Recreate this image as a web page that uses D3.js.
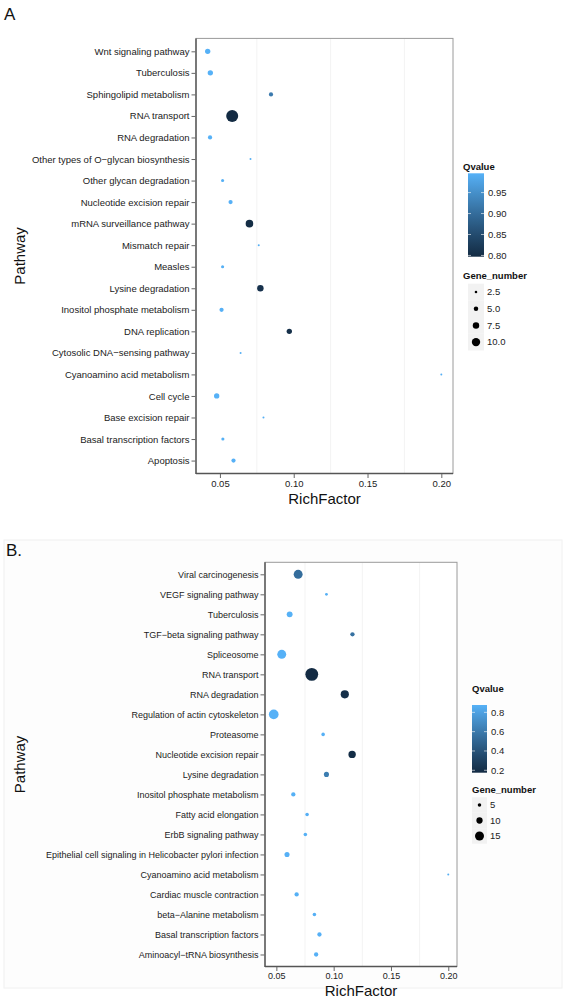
<!DOCTYPE html>
<html>
<head>
<meta charset="utf-8">
<script src="https://cdn.jsdelivr.net/npm/d3@7"></script>
<style>
  html, body { margin: 0; padding: 0; background: #ffffff; }
  svg { display: block; font-family: "Liberation Sans", Arial, Helvetica, sans-serif; }
</style>
</head>
<body>
<svg id="chart" width="566" height="1004"></svg>
<script>
// ---------- Panel A data ----------
const pathwaysA = ["Wnt signaling pathway","Tuberculosis","Sphingolipid metabolism","RNA transport","RNA degradation",
  "Other types of O\u2212glycan biosynthesis","Other glycan degradation","Nucleotide excision repair","mRNA surveillance pathway",
  "Mismatch repair","Measles","Lysine degradation","Inositol phosphate metabolism","DNA replication",
  "Cytosolic DNA\u2212sensing pathway","Cyanoamino acid metabolism","Cell cycle","Base excision repair",
  "Basal transcription factors","Apoptosis"];
const richA  = [0.0417,0.0435,0.0846,0.0583,0.0433,0.0707,0.0518,0.0572,0.0700,0.0763,0.0518,0.0774,0.0511,0.0970,0.0640,0.2000,0.0478,0.0795,0.0520,0.0592];
const qA     = [0.996,0.996,0.920,0.797,0.996,0.993,0.994,0.995,0.800,0.993,0.994,0.808,0.995,0.806,0.993,0.993,0.996,0.993,0.994,0.995];
const genesA = [4,4,3,10,3,1,2,3,6,1,2,5,3,4,1,1,4,1,2,3];
const qTicksA = [0.80,0.85,0.90,0.95];
const sizeBreaksA = [2.5,5.0,7.5,10.0];
const sizeLabelsA = ["2.5","5.0","7.5","10.0"];

// ---------- Panel B data ----------
const pathwaysB = ["Viral carcinogenesis","VEGF signaling pathway","Tuberculosis","TGF\u2212beta signaling pathway","Spliceosome",
  "RNA transport","RNA degradation","Regulation of actin cytoskeleton","Proteasome","Nucleotide excision repair",
  "Lysine degradation","Inositol phosphate metabolism","Fatty acid elongation","ErbB signaling pathway",
  "Epithelial cell signaling in Helicobacter pylori infection","Cyanoamino acid metabolism","Cardiac muscle contraction",
  "beta\u2212Alanine metabolism","Basal transcription factors","Aminoacyl\u2212tRNA biosynthesis"];
const richB  = [0.0690,0.0937,0.0616,0.1164,0.0547,0.0809,0.1097,0.0477,0.0908,0.1161,0.0937,0.0648,0.0768,0.0753,0.0593,0.2000,0.0677,0.0832,0.0876,0.0847];
const qB     = [0.540,0.870,0.874,0.560,0.876,0.175,0.200,0.876,0.872,0.190,0.620,0.870,0.868,0.870,0.872,0.866,0.870,0.868,0.872,0.872];
const genesB = [10,2,6,4,10,15,9,11,3,8,5,4,3,3,5,1,4,3,4,4];
const qTicksB = [0.2,0.4,0.6,0.8];
const sizeBreaksB = [5,10,15];
const sizeLabelsB = ["5","10","15"];

const xTicks = [0.05,0.10,0.15,0.20];
const xMinor = [0.075,0.125,0.175];

const svg = d3.select("#chart");

// faint frame around panel B image
svg.append("rect").attr("x",4).attr("y",540).attr("width",558).attr("height",448)
  .attr("fill","#fdfdfd").attr("stroke","#f0f0f0");

function drawPanel(cfg) {
  const g = svg.append("g");
  const data = cfg.paths.map((p,i)=>({p, x: cfg.rich[i], q: cfg.q[i], n: cfg.genes[i]}));

  const [xmin,xmax] = d3.extent(cfg.rich);
  const ex = (xmax-xmin)*0.05;
  const x = d3.scaleLinear().domain([xmin-ex, xmax+ex]).range([cfg.left, cfg.right]);
  const y = d3.scalePoint().domain(cfg.paths).range([cfg.top, cfg.bottom]).padding(0.6);
  const qExt = d3.extent(cfg.q);
  const color = d3.scaleLinear().domain(qExt).range(["#132B43","#56B1F7"]).interpolate(d3.interpolateLab);
  const r = d3.scaleLinear().domain([1, cfg.nMax]).range([1, cfg.rMax]);
  const rLegend = d3.scaleLinear().domain([1, cfg.nMax]).range([0.7, cfg.rMax*0.7]);

  g.append("rect").attr("x",cfg.left).attr("y",cfg.top).attr("width",cfg.right-cfg.left).attr("height",cfg.bottom-cfg.top)
    .attr("fill","#ffffff");
  g.selectAll(".minor").data(xMinor).enter().append("line")
    .attr("x1",d=>x(d)).attr("x2",d=>x(d)).attr("y1",cfg.top).attr("y2",cfg.bottom)
    .attr("stroke","#f3f3f3").attr("stroke-width",1);

  g.selectAll("circle.pt").data(data).enter().append("circle")
    .attr("cx",d=>x(d.x)).attr("cy",d=>y(d.p)).attr("r",d=>r(d.n))
    .attr("fill",d=>color(d.q));

  g.append("rect").attr("x",cfg.left).attr("y",cfg.top).attr("width",cfg.right-cfg.left).attr("height",cfg.bottom-cfg.top)
    .attr("fill","none").attr("stroke","#9a9a9a").attr("stroke-width",1);
  g.append("line").attr("x1",cfg.left).attr("x2",cfg.left).attr("y1",cfg.top).attr("y2",cfg.bottom+0.5)
    .attr("stroke","#555").attr("stroke-width",1.4);
  g.append("line").attr("x1",cfg.left).attr("x2",cfg.right).attr("y1",cfg.bottom).attr("y2",cfg.bottom)
    .attr("stroke","#555").attr("stroke-width",1.4);

  const yAxis = d3.axisLeft(y).tickSize(4).tickPadding(2);
  const ya = g.append("g").attr("transform",`translate(${cfg.left-0.5},0)`).call(yAxis);
  ya.select(".domain").remove();
  ya.selectAll(".tick line").attr("stroke","#666");
  ya.selectAll("text").attr("fill","#222").style("font-size",cfg.fs+"px").style("font-family","Liberation Sans, Arial, sans-serif");

  const xAxis = d3.axisBottom(x).tickValues(xTicks).tickFormat(d3.format(".2f")).tickSize(4).tickPadding(2);
  const xa = g.append("g").attr("transform",`translate(0,${cfg.bottom+0.5})`).call(xAxis);
  xa.select(".domain").remove();
  xa.selectAll(".tick line").attr("stroke","#666");
  xa.selectAll("text").attr("fill","#222").style("font-size",cfg.fs+"px").style("font-family","Liberation Sans, Arial, sans-serif");

  g.append("text").attr("x",(cfg.left+cfg.right)/2).attr("y",cfg.bottom+cfg.xTitleDy)
    .attr("text-anchor","middle").attr("font-size",15).attr("fill","#111").text("RichFactor");
  g.append("text").attr("transform",`translate(${cfg.yTitleX},${(cfg.top+cfg.bottom)/2}) rotate(-90)`)
    .attr("text-anchor","middle").attr("font-size",15).attr("fill","#111").text("Pathway");

  g.append("text").attr("x",cfg.labX).attr("y",cfg.labY).attr("font-size",17).attr("fill","#111").text(cfg.label);

  const L = cfg.leg;
  g.append("text").attr("x",L.x).attr("y",L.qTitleY).attr("font-size",9.5).attr("font-weight","bold").attr("fill","#111").text("Qvalue");
  const gradId = "grad"+cfg.label.replace(/\W/g,"");
  const grad = svg.append("defs").append("linearGradient").attr("id",gradId)
    .attr("x1","0").attr("y1","1").attr("x2","0").attr("y2","0");
  d3.range(0,1.0001,0.05).forEach(t=>{
    grad.append("stop").attr("offset",t).attr("stop-color",color(qExt[0]+t*(qExt[1]-qExt[0])));
  });
  g.append("rect").attr("x",L.barX).attr("y",L.barTop).attr("width",L.barW).attr("height",L.barBot-L.barTop)
    .attr("fill",`url(#${gradId})`);
  const qs = d3.scaleLinear().domain(qExt).range([L.barBot,L.barTop]);
  cfg.qTicks.forEach(t=>{
    const yy = qs(t);
    g.append("line").attr("x1",L.barX).attr("x2",L.barX+3).attr("y1",yy).attr("y2",yy).attr("stroke","#ffffff").attr("stroke-opacity",0.6);
    g.append("line").attr("x1",L.barX+L.barW-3).attr("x2",L.barX+L.barW).attr("y1",yy).attr("y2",yy).attr("stroke","#ffffff").attr("stroke-opacity",0.6);
    g.append("text").attr("x",L.barX+L.barW+4).attr("y",yy).attr("dy","0.35em").attr("font-size",9.5).attr("fill","#222")
      .text(cfg.qFmt(t));
  });

  g.append("text").attr("x",L.x).attr("y",L.sTitleY).attr("font-size",9.5).attr("font-weight","bold").attr("fill","#111").text("Gene_number");
  cfg.sizeBreaks.forEach((b,i)=>{
    const cy = L.sY0 + i*L.sStep;
    g.append("rect").attr("x",L.barX).attr("y",cy-L.sStep/2).attr("width",L.barW).attr("height",L.sStep)
      .attr("fill","#f2f2f2");
    g.append("circle").attr("cx",L.barX+L.barW/2).attr("cy",cy).attr("r",rLegend(b)).attr("fill","#000");
    g.append("text").attr("x",L.barX+L.barW+3).attr("y",cy).attr("dy","0.35em").attr("font-size",9.5).attr("fill","#222")
      .text(cfg.sizeLabels[i]);
  });
}

drawPanel({
  label:"A", labX:4, labY:20,
  paths:pathwaysA, rich:richA, q:qA, genes:genesA,
  left:196, right:453, top:38.4, bottom:473.5, fs:9.5, nMax:10, rMax:6,
  xTitleDy:30, yTitleX:25,
  qTicks:qTicksA, qFmt:d3.format(".2f"), sizeBreaks:sizeBreaksA, sizeLabels:sizeLabelsA,
  leg:{x:463, qTitleY:170, barX:468, barW:16, barTop:173.3, barBot:256.7, sTitleY:279, sY0:292, sStep:16.7}
});

drawPanel({
  label:"B.", labX:6, labY:556,
  paths:pathwaysB, rich:richB, q:qB, genes:genesB,
  left:265, right:457, top:562.3, bottom:966.5, fs:9, nMax:15, rMax:6.4,
  xTitleDy:29, yTitleX:25,
  qTicks:qTicksB, qFmt:d3.format(".1f"), sizeBreaks:sizeBreaksB, sizeLabels:sizeLabelsB,
  leg:{x:472, qTitleY:692, barX:472, barW:15, barTop:705, barBot:772.7, sTitleY:793, sY0:805, sStep:15.5}
});
</script>
</body>
</html>
